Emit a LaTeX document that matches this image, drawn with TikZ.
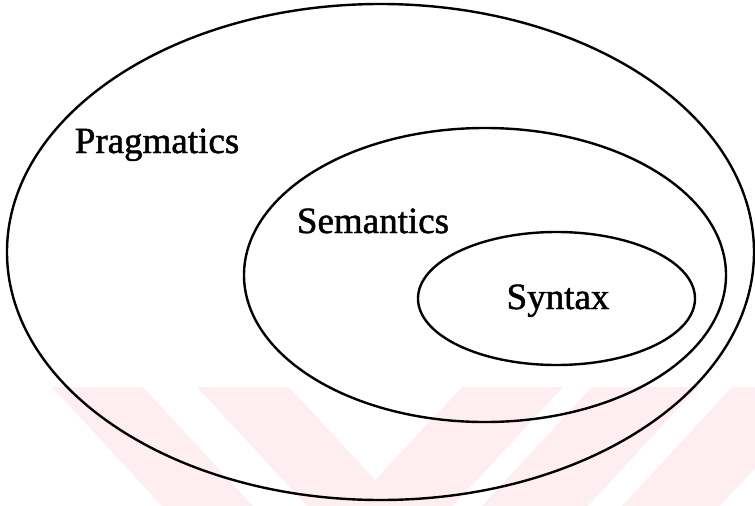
\documentclass[tikz,border=0pt]{standalone}
\usepackage{fontspec}
\setmainfont{Liberation Serif}
\newfontfamily\setnamefont{Liberation Serif}[FakeBold=1.3]
\usepackage{xcolor}
\usepackage{tikz}
\usetikzlibrary{shapes.geometric}
\definecolor{markpink}{RGB}{254, 238, 242}
\tikzset{
    ring/.style={ellipse, draw=black, line width=2.4pt, inner sep=0pt},
    levelname/.style={inner sep=0pt, anchor=base, font=\setnamefont\fontsize{37}{44}\selectfont},
    band/.style={fill=markpink, draw=none},
}

\begin{document}
\begin{tikzpicture}[x=1pt, y=-1pt]
    \useasboundingbox (0,0) rectangle (755,506);
    % faint watermark behind the sets
    \begin{scope}
        \clip (0,0) rectangle (755,506);
        \fill[band] (52,387) -- (143,387) -- (253,506) -- (162,506) -- cycle;
        \fill[band] (197,387) -- (289,387) -- (375,480) -- (462,387)
            -- (563,387) -- (453,506) -- (307,506) -- cycle;
        \fill[band] (592,387) -- (698,387) -- (588,506) -- (482,506) -- cycle;
        \fill[band] (732,387) -- (830,387) -- (720,506) -- (622,506) -- cycle;
    \end{scope}
    % nested sets
    \node[ring, minimum width=747pt, minimum height=496pt] (pragring) at (380.5,252) {};
    \node[ring, minimum width=482pt, minimum height=294pt] (semring) at (485,275) {};
    \node[ring, minimum width=277pt, minimum height=133pt] (synring) at (556.5,298.5) {};
    \node[levelname] (pragname) at (157,153) {Pragmatics};
    \node[levelname] (semname) at (373,233) {Semantics};
    \node[levelname] (synname) at (558,309) {Syntax};
\end{tikzpicture}
\end{document}
